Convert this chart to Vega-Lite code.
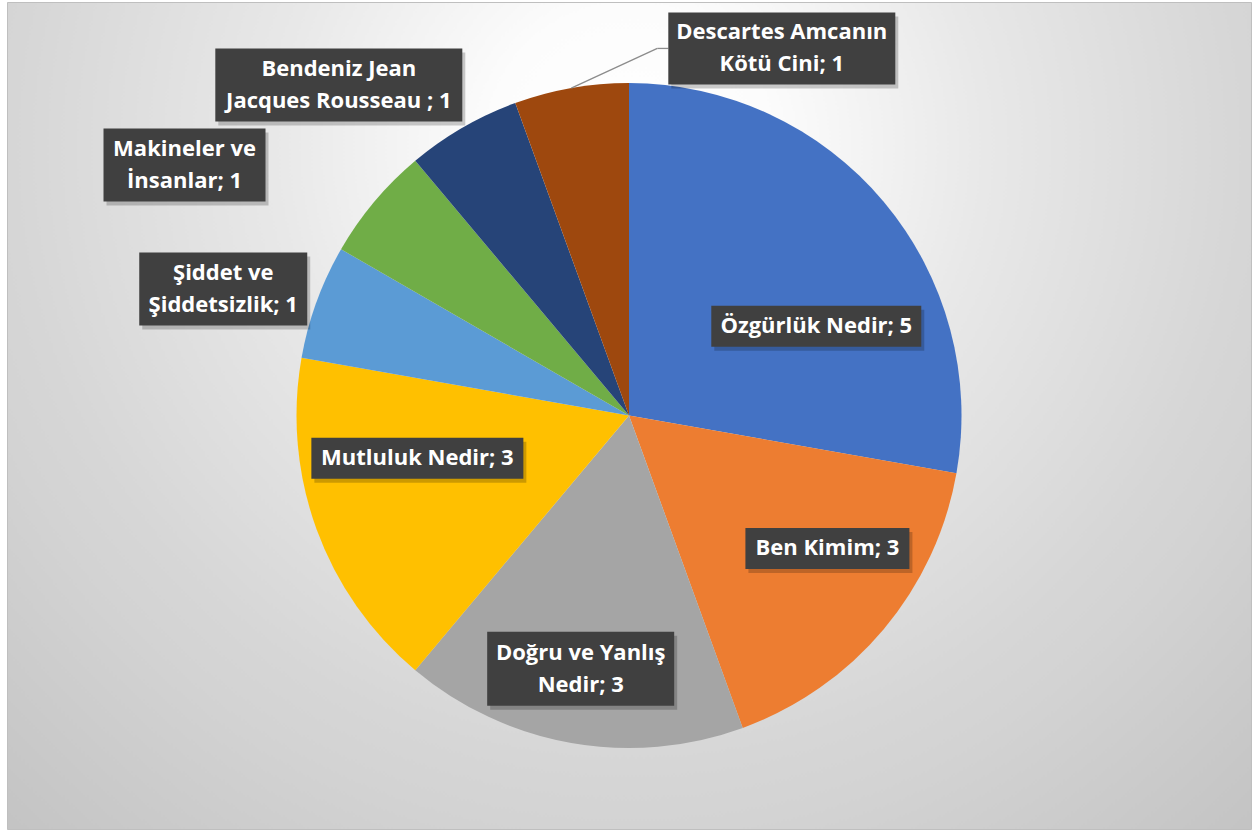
{
  "$schema": "https://vega.github.io/schema/vega-lite/v6.json",
  "width": 1257,
  "height": 832,
  "autosize": {"type": "fit", "contains": "padding"},
  "padding": {"left": 7, "top": 2, "right": 6, "bottom": 3},
  "background": "#ffffff",
  "config": {
    "text": {"font": "Open Sans", "fontWeight": "bold", "fontSize": 22, "color": "#ffffff", "align": "center", "baseline": "middle", "lineBreak": "\n", "lineHeight": 32}
  },
  "view": {
    "fill": {
      "gradient": "radial",
      "x1": 0.5, "y1": 0.284, "r1": 0,
      "x2": 0.5, "y2": 0.284, "r2": 0.75,
      "stops": [
        {"offset": 0, "color": "#ffffff"},
        {"offset": 0.15, "color": "#fcfcfc"},
        {"offset": 0.38, "color": "#e8e8e8"},
        {"offset": 0.66, "color": "#d6d6d6"},
        {"offset": 0.73, "color": "#d3d3d3"},
        {"offset": 0.98, "color": "#c4c4c4"},
        {"offset": 1, "color": "#c3c3c3"}
      ]
    },
    "stroke": "#bfbfbf",
    "strokeWidth": 1
  },
  "data": {
    "values": [
      {"order": 1, "label": "Özgürlük Nedir", "value": 5, "caption": "Özgürlük Nedir; 5"},
      {"order": 2, "label": "Ben Kimim", "value": 3, "caption": "Ben Kimim; 3"},
      {"order": 3, "label": "Doğru ve Yanlış Nedir", "value": 3, "caption": "Doğru ve Yanlış\nNedir; 3"},
      {"order": 4, "label": "Mutluluk Nedir", "value": 3, "caption": "Mutluluk Nedir; 3"},
      {"order": 5, "label": "Şiddet ve Şiddetsizlik", "value": 1, "caption": "Şiddet ve\nŞiddetsizlik; 1"},
      {"order": 6, "label": "Makineler ve İnsanlar", "value": 1, "caption": "Makineler ve\nİnsanlar; 1"},
      {"order": 7, "label": "Bendeniz Jean Jacques Rousseau", "value": 1, "caption": "Bendeniz Jean\nJacques Rousseau ; 1"},
      {"order": 8, "label": "Descartes Amcanın Kötü Cini", "value": 1, "caption": "Descartes Amcanın\nKötü Cini; 1"}
    ]
  },
  "transform": [
    {"stack": "value", "groupby": [], "sort": [{"field": "order", "order": "ascending"}], "as": ["v0", "v1"]},
    {"joinaggregate": [{"op": "sum", "field": "value", "as": "total"}]},
    {"calculate": "PI * (datum.v0 + datum.v1) / datum.total", "as": "mid"}
  ],
  "layer": [
    {
      "mark": {"type": "arc", "radius": 332.5},
      "encoding": {
        "theta": {"field": "value", "type": "quantitative", "stack": true},
        "order": {"field": "order", "type": "quantitative"},
        "color": {
          "field": "label",
          "type": "nominal",
          "scale": {
            "domain": ["Özgürlük Nedir", "Ben Kimim", "Doğru ve Yanlış Nedir", "Mutluluk Nedir", "Şiddet ve Şiddetsizlik", "Makineler ve İnsanlar", "Bendeniz Jean Jacques Rousseau", "Descartes Amcanın Kötü Cini"],
            "range": ["#4472C4", "#ED7D31", "#A5A5A5", "#FFC000", "#5B9BD5", "#70AD47", "#264478", "#9E480E"]
          },
          "legend": null
        }
      }
    },
    {
      "transform": [
        {"filter": "datum.order === 1"},
        {"calculate": "207.5 * sin(datum.mid + 0.253)", "as": "lx"},
        {"calculate": "207.5 * cos(datum.mid + 0.253)", "as": "ly"}
      ],
      "encoding": {
        "x": {"field": "lx", "type": "quantitative", "scale": {"domain": [-622, 622], "nice": false, "zero": false}, "axis": null},
        "y": {"field": "ly", "type": "quantitative", "scale": {"domain": [-413.5, 413.5], "nice": false, "zero": false}, "axis": null}
      },
      "layer": [
        {"mark": {"type": "point", "shape": "M-102,-16.5H108V24.5H-102Z", "size": 4, "filled": true, "color": "#000000", "opacity": 0.2, "strokeWidth": 0}},
        {"mark": {"type": "point", "shape": "M-105,-20.5H105V20.5H-105Z", "size": 4, "filled": true, "color": "#404040", "opacity": 1, "strokeWidth": 0}},
        {"mark": {"type": "text"}, "encoding": {"text": {"field": "caption"}}}
      ]
    },
    {
      "transform": [
        {"filter": "datum.order === 2"},
        {"calculate": "238.8 * sin(datum.mid - 0.108)", "as": "lx"},
        {"calculate": "238.8 * cos(datum.mid - 0.108)", "as": "ly"}
      ],
      "encoding": {
        "x": {"field": "lx", "type": "quantitative", "scale": {"domain": [-622, 622], "nice": false, "zero": false}, "axis": null},
        "y": {"field": "ly", "type": "quantitative", "scale": {"domain": [-413.5, 413.5], "nice": false, "zero": false}, "axis": null}
      },
      "layer": [
        {"mark": {"type": "point", "shape": "M-79,-16.5H85V24.5H-79Z", "size": 4, "filled": true, "color": "#000000", "opacity": 0.2, "strokeWidth": 0}},
        {"mark": {"type": "point", "shape": "M-82,-20.5H82V20.5H-82Z", "size": 4, "filled": true, "color": "#404040", "opacity": 1, "strokeWidth": 0}},
        {"mark": {"type": "text"}, "encoding": {"text": {"field": "caption"}}}
      ]
    },
    {
      "transform": [
        {"filter": "datum.order === 3"},
        {"calculate": "257.8 * sin(datum.mid + 0.014)", "as": "lx"},
        {"calculate": "257.8 * cos(datum.mid + 0.014)", "as": "ly"}
      ],
      "encoding": {
        "x": {"field": "lx", "type": "quantitative", "scale": {"domain": [-622, 622], "nice": false, "zero": false}, "axis": null},
        "y": {"field": "ly", "type": "quantitative", "scale": {"domain": [-413.5, 413.5], "nice": false, "zero": false}, "axis": null}
      },
      "layer": [
        {"mark": {"type": "point", "shape": "M-90.5,-33H96.5V41H-90.5Z", "size": 4, "filled": true, "color": "#000000", "opacity": 0.2, "strokeWidth": 0}},
        {"mark": {"type": "point", "shape": "M-93.5,-37H93.5V37H-93.5Z", "size": 4, "filled": true, "color": "#404040", "opacity": 1, "strokeWidth": 0}},
        {"mark": {"type": "text", "dy": -16}, "encoding": {"text": {"field": "caption"}}}
      ]
    },
    {
      "transform": [
        {"filter": "datum.order === 4"},
        {"calculate": "215.9 * sin(datum.mid + 0.150)", "as": "lx"},
        {"calculate": "215.9 * cos(datum.mid + 0.150)", "as": "ly"}
      ],
      "encoding": {
        "x": {"field": "lx", "type": "quantitative", "scale": {"domain": [-622, 622], "nice": false, "zero": false}, "axis": null},
        "y": {"field": "ly", "type": "quantitative", "scale": {"domain": [-413.5, 413.5], "nice": false, "zero": false}, "axis": null}
      },
      "layer": [
        {"mark": {"type": "point", "shape": "M-103,-16.5H109V24.5H-103Z", "size": 4, "filled": true, "color": "#000000", "opacity": 0.2, "strokeWidth": 0}},
        {"mark": {"type": "point", "shape": "M-106,-20.5H106V20.5H-106Z", "size": 4, "filled": true, "color": "#404040", "opacity": 1, "strokeWidth": 0}},
        {"mark": {"type": "text"}, "encoding": {"text": {"field": "caption"}}}
      ]
    },
    {
      "transform": [
        {"filter": "datum.order === 5"},
        {"calculate": "425 * sin(datum.mid - 0.047)", "as": "lx"},
        {"calculate": "425 * cos(datum.mid - 0.047)", "as": "ly"}
      ],
      "encoding": {
        "x": {"field": "lx", "type": "quantitative", "scale": {"domain": [-622, 622], "nice": false, "zero": false}, "axis": null},
        "y": {"field": "ly", "type": "quantitative", "scale": {"domain": [-413.5, 413.5], "nice": false, "zero": false}, "axis": null}
      },
      "layer": [
        {"mark": {"type": "point", "shape": "M-81,-32.5H87V40.5H-81Z", "size": 4, "filled": true, "color": "#000000", "opacity": 0.2, "strokeWidth": 0}},
        {"mark": {"type": "point", "shape": "M-84,-36.5H84V36.5H-84Z", "size": 4, "filled": true, "color": "#404040", "opacity": 1, "strokeWidth": 0}},
        {"mark": {"type": "text", "dy": -16}, "encoding": {"text": {"field": "caption"}}}
      ]
    },
    {
      "transform": [
        {"filter": "datum.order === 6"},
        {"calculate": "510.2 * sin(datum.mid - 0.185)", "as": "lx"},
        {"calculate": "510.2 * cos(datum.mid - 0.185)", "as": "ly"}
      ],
      "encoding": {
        "x": {"field": "lx", "type": "quantitative", "scale": {"domain": [-622, 622], "nice": false, "zero": false}, "axis": null},
        "y": {"field": "ly", "type": "quantitative", "scale": {"domain": [-413.5, 413.5], "nice": false, "zero": false}, "axis": null}
      },
      "layer": [
        {"mark": {"type": "point", "shape": "M-78,-32.5H84V40.5H-78Z", "size": 4, "filled": true, "color": "#000000", "opacity": 0.2, "strokeWidth": 0}},
        {"mark": {"type": "point", "shape": "M-81,-36.5H81V36.5H-81Z", "size": 4, "filled": true, "color": "#404040", "opacity": 1, "strokeWidth": 0}},
        {"mark": {"type": "text", "dy": -16}, "encoding": {"text": {"field": "caption"}}}
      ]
    },
    {
      "transform": [
        {"filter": "datum.order === 7"},
        {"calculate": "439.8 * sin(datum.mid - 0.197)", "as": "lx"},
        {"calculate": "439.8 * cos(datum.mid - 0.197)", "as": "ly"}
      ],
      "encoding": {
        "x": {"field": "lx", "type": "quantitative", "scale": {"domain": [-622, 622], "nice": false, "zero": false}, "axis": null},
        "y": {"field": "ly", "type": "quantitative", "scale": {"domain": [-413.5, 413.5], "nice": false, "zero": false}, "axis": null}
      },
      "layer": [
        {"mark": {"type": "point", "shape": "M-120.5,-32.5H126.5V40.5H-120.5Z", "size": 4, "filled": true, "color": "#000000", "opacity": 0.2, "strokeWidth": 0}},
        {"mark": {"type": "point", "shape": "M-123.5,-36.5H123.5V36.5H-123.5Z", "size": 4, "filled": true, "color": "#404040", "opacity": 1, "strokeWidth": 0}},
        {"mark": {"type": "text", "dy": -16}, "encoding": {"text": {"field": "caption"}}}
      ]
    },
    {
      "transform": [
        {"filter": "datum.order === 8"},
        {"calculate": "397.6 * sin(datum.mid + 0.569)", "as": "lx"},
        {"calculate": "397.6 * cos(datum.mid + 0.569)", "as": "ly"},
        {"calculate": "332.5 * sin(datum.mid)", "as": "ex"},
        {"calculate": "332.5 * cos(datum.mid)", "as": "ey"},
        {"calculate": "datum.lx - 124.5", "as": "bx"},
        {"calculate": "datum.lx - 113.5", "as": "cx"}
      ],
      "encoding": {
        "x": {"field": "lx", "type": "quantitative", "scale": {"domain": [-622, 622], "nice": false, "zero": false}, "axis": null},
        "y": {"field": "ly", "type": "quantitative", "scale": {"domain": [-413.5, 413.5], "nice": false, "zero": false}, "axis": null}
      },
      "layer": [
        {
          "mark": {"type": "rule", "color": "#8c8c8c", "strokeWidth": 1.3},
          "encoding": {
            "x": {"field": "ex", "type": "quantitative"},
            "y": {"field": "ey", "type": "quantitative"},
            "x2": {"field": "bx"},
            "y2": {"field": "ly"}
          }
        },
        {
          "mark": {"type": "rule", "color": "#8c8c8c", "strokeWidth": 1.3},
          "encoding": {
            "x": {"field": "bx", "type": "quantitative"},
            "x2": {"field": "cx"},
            "y2": {"field": "ly"}
          }
        },
        {"mark": {"type": "point", "shape": "M-110.5,-32H116.5V40H-110.5Z", "size": 4, "filled": true, "color": "#000000", "opacity": 0.2, "strokeWidth": 0}},
        {"mark": {"type": "point", "shape": "M-113.5,-36H113.5V36H-113.5Z", "size": 4, "filled": true, "color": "#404040", "opacity": 1, "strokeWidth": 0}},
        {"mark": {"type": "text", "dy": -16}, "encoding": {"text": {"field": "caption"}}}
      ]
    }
  ]
}
